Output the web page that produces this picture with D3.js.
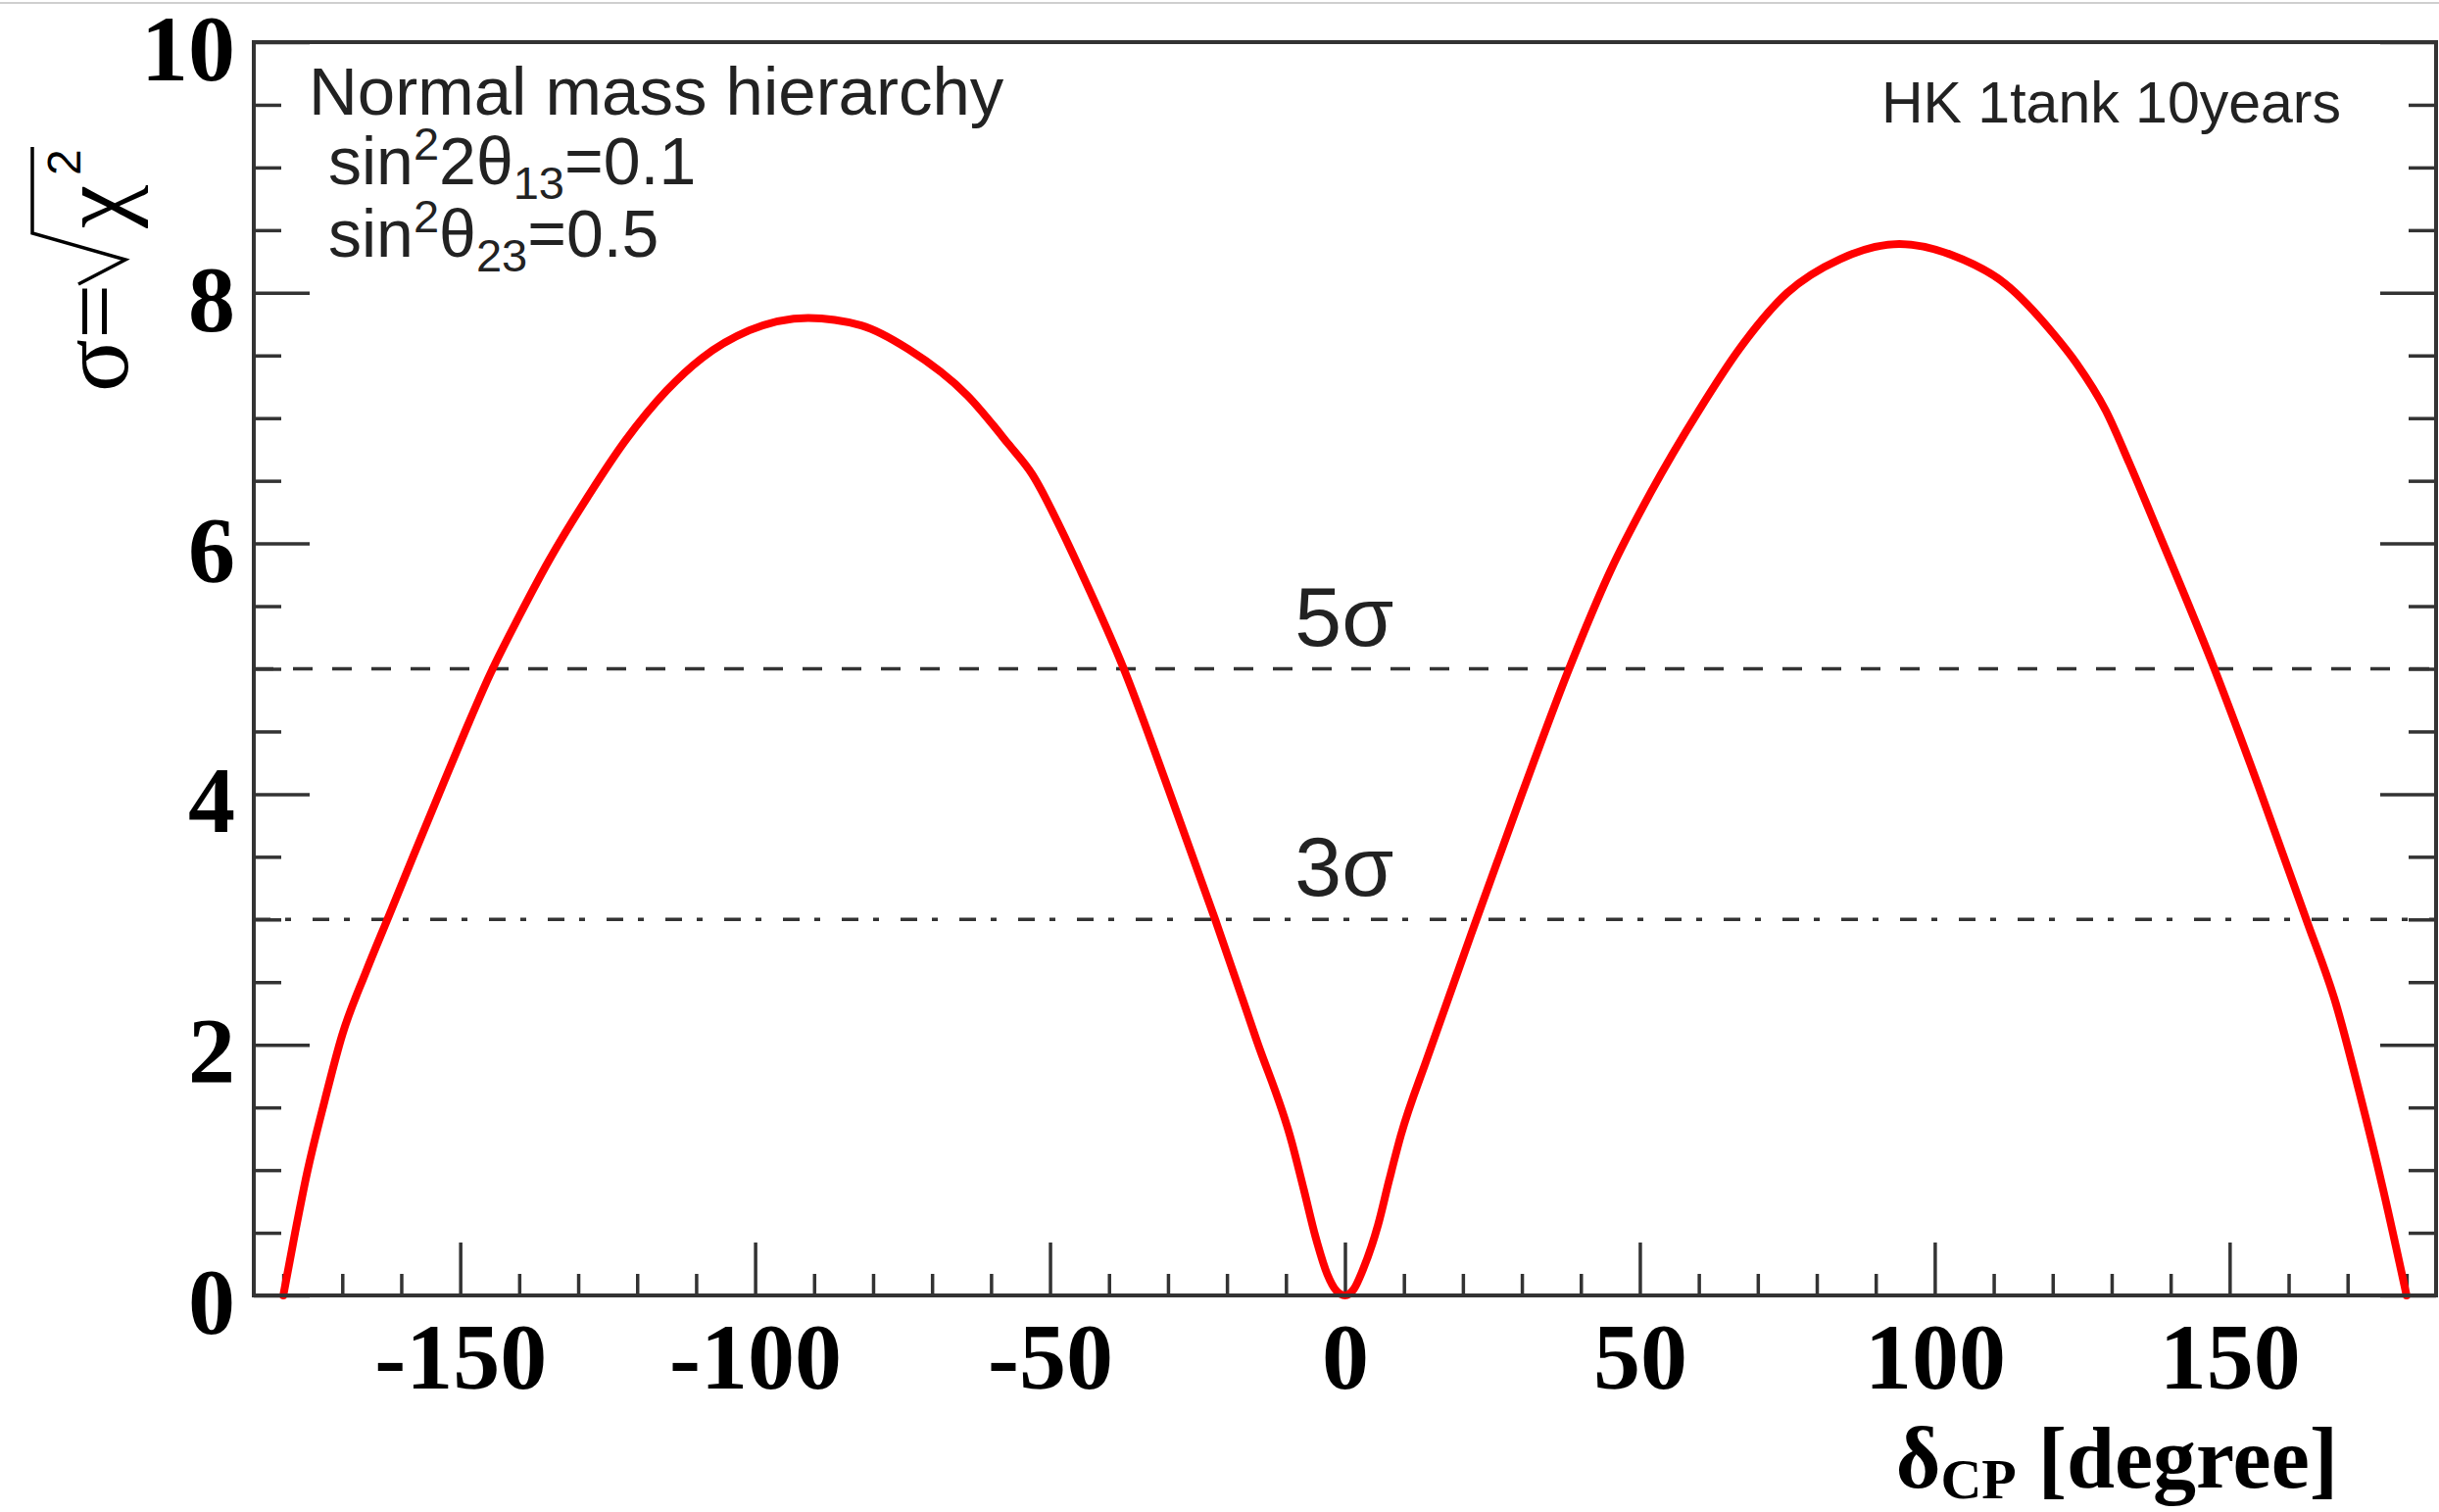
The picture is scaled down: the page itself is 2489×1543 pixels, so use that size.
<!DOCTYPE html>
<html>
<head>
<meta charset="utf-8">
<script src="https://cdn.jsdelivr.net/npm/d3@7"></script>
<style>
  html, body { margin: 0; padding: 0; background: #fff; }
  svg { display: block; }
</style>
</head>
<body>
<script>
// ---- data ----
const deltaCP = [-180,-178,-176,-173,-170,-166,-162,-158,-153,-149,-145,-140,-135,-128,-122,-115,-109,-101,-91,-82,-74,-64,-57,-53,-48,-45,-37.5,-30,-22,-15,-9,-7,-5,-3,-1.5,0,1.5,3,5.6,7.5,9.5,14,22.3,30,38,45,52,60,67,75,84,94,103,112,120,124,129,133,138,147,155,163,168,172,176,180];
const sigma   = [0,0.5,0.97,1.55,2.08,2.58,3.04,3.5,4.07,4.52,4.95,5.42,5.86,6.4,6.82,7.22,7.48,7.7,7.8,7.74,7.55,7.18,6.79,6.55,6.1,5.8,5.0,4.05,3.0,2.04,1.22,0.85,0.47,0.17,0.04,0,0.05,0.2,0.56,0.92,1.28,1.9,3.0,4.0,5.0,5.78,6.42,7.06,7.56,8.0,8.27,8.39,8.3,8.07,7.68,7.44,7.06,6.64,6.08,5.05,4.05,3.0,2.33,1.62,0.85,0];
const xMajorTicks = [-150,-100,-50,0,50,100,150];
const xMinorTicks = [-180,-170,-160,-140,-130,-120,-110,-90,-80,-70,-60,-40,-30,-20,-10,10,20,30,40,60,70,80,90,110,120,130,140,160,170,180];
const yMajorTicks = [0,2,4,6,8,10];
const yMinorTicks = [0.5,1,1.5,2.5,3,3.5,4.5,5,5.5,6.5,7,7.5,8.5,9,9.5];
const sigmaLevels = [5, 3];
const sigmaLabels = ["5σ", "3σ"];

// ---- layout ----
const W = 2489, H = 1543;
const L = 259, R = 2486, T = 43, B = 1322;
const ink = "#333";

const svg = d3.select("body").append("svg").attr("width", W).attr("height", H);
svg.append("rect").attr("width", W).attr("height", H).attr("fill", "#fff");
svg.append("line").attr("x1", 0).attr("x2", W).attr("y1", 3).attr("y2", 3)
   .attr("stroke", "#cfcfcf").attr("stroke-width", 2);

const x = d3.scaleLinear().domain([-185, 185]).range([L, R]);
const y = d3.scaleLinear().domain([0, 10]).range([B, T]);

// minor ticks
svg.append("g").attr("transform", `translate(0,${B})`)
  .call(d3.axisBottom(x).tickValues(xMinorTicks).tickSize(-22).tickFormat(""))
  .call(g => g.select(".domain").remove());
svg.append("g").attr("transform", `translate(${L},0)`)
  .call(d3.axisLeft(y).tickValues(yMinorTicks).tickSize(-28).tickFormat(""))
  .call(g => g.select(".domain").remove());
svg.append("g").attr("transform", `translate(${R},0)`)
  .call(d3.axisRight(y).tickValues(yMinorTicks).tickSize(-28).tickFormat(""))
  .call(g => g.select(".domain").remove());

// major ticks with labels
const fmt = d => String(d);
const xAx = svg.append("g").attr("transform", `translate(0,${B})`)
  .call(d3.axisBottom(x).tickValues(xMajorTicks).tickSizeInner(-54).tickSizeOuter(0).tickPadding(27).tickFormat(fmt));
xAx.select(".domain").remove();
const yAx = svg.append("g").attr("transform", `translate(${L},0)`)
  .call(d3.axisLeft(y).tickValues(yMajorTicks).tickSizeInner(-57).tickSizeOuter(0).tickPadding(19).tickFormat(fmt));
yAx.select(".domain").remove();
svg.append("g").attr("transform", `translate(${R},0)`)
  .call(d3.axisRight(y).tickValues(yMajorTicks).tickSize(-57).tickFormat(""))
  .call(g => g.select(".domain").remove());

svg.selectAll(".tick line").attr("stroke", ink).attr("stroke-width", 3.5);
[xAx, yAx].forEach(a => a.selectAll("text")
  .attr("font-family", "'Liberation Serif', 'Times New Roman', serif")
  .attr("font-weight", "bold").attr("font-size", 96).attr("fill", "#000"));
yAx.selectAll("text").attr("dy", "0.4em");

// sigma level lines
const dashes = ["20,20", "17,15,6,22"];
sigmaLevels.forEach((s, i) => {
  svg.append("line").attr("x1", L).attr("x2", R).attr("y1", y(s)).attr("y2", y(s))
    .attr("stroke", ink).attr("stroke-width", 3.5).attr("stroke-dasharray", dashes[i]);
  svg.append("text").attr("x", x(-8.5)).attr("y", y(s) - 24)
    .attr("font-family", "'Liberation Sans', Arial, sans-serif").attr("font-size", 86)
    .attr("fill", "#222").text(sigmaLabels[i]);
});

// curve
const pts = deltaCP.map((d, i) => [d, sigma[i]]);
svg.append("path").datum(pts)
  .attr("d", d3.line().x(d => x(d[0])).y(d => y(d[1])).curve(d3.curveMonotoneX))
  .attr("fill", "none").attr("stroke", "#ff0000").attr("stroke-width", 8)
  .attr("stroke-linejoin", "round").attr("stroke-linecap", "round");

// frame
svg.append("rect").attr("x", L).attr("y", T).attr("width", R - L).attr("height", B - T)
  .attr("fill", "none").attr("stroke", ink).attr("stroke-width", 4);

// in-plot texts
const sans = "'Liberation Sans', Arial, Helvetica, sans-serif";
svg.append("text").attr("x", 315).attr("y", 117).attr("font-family", sans)
  .attr("font-size", 69).attr("fill", "#222").text("Normal mass hierarchy");

function paramLine(yb, parts) {
  const t = svg.append("text").attr("x", 335).attr("y", yb).attr("font-family", sans)
    .attr("font-size", 68).attr("fill", "#222");
  parts.forEach(p => {
    const ts = t.append("tspan").text(p.t);
    if (p.s) ts.attr("font-size", 47);
    if (p.dy) ts.attr("dy", p.dy);
  });
}
paramLine(188, [{t:"sin"},{t:"2",s:1,dy:-25},{t:"2θ",dy:25},{t:"13",s:1,dy:15},{t:"=0.1",dy:-15}]);
paramLine(262, [{t:"sin"},{t:"2",s:1,dy:-25},{t:"θ",dy:25},{t:"23",s:1,dy:15},{t:"=0.5",dy:-15}]);

svg.append("text").attr("x", 2389).attr("y", 125).attr("text-anchor", "end")
  .attr("font-family", sans).attr("font-size", 59).attr("fill", "#222").text("HK 1tank 10years");

// x-axis title
const serif = "'Liberation Serif', 'Times New Roman', serif";
const xt = svg.append("text").attr("x", 2386).attr("y", 1518).attr("text-anchor", "end")
  .attr("font-family", serif).attr("font-weight", "bold").attr("font-size", 88).attr("fill", "#000");
xt.append("tspan").text("δ");
xt.append("tspan").attr("font-size", 58).attr("dy", 11).text("CP");
xt.append("tspan").attr("dy", -11).text(" [degree]");

// y-axis title: σ=√χ² rotated
const yt = svg.append("g").attr("transform", "translate(130,405) rotate(-90)");
yt.append("text").attr("x", 5).attr("y", 0).attr("font-family", serif)
  .attr("font-size", 100).attr("fill", "#000").text("σ=");
yt.append("text").attr("x", 172).attr("y", 0).attr("font-family", serif)
  .attr("font-size", 100).attr("fill", "#000").text("χ");
yt.append("text").attr("x", 226).attr("y", -48).attr("font-family", sans)
  .attr("font-size", 48).attr("fill", "#000").text("2");
yt.append("path").attr("d", "M115,-50 L140,-2 L167,-97 L255,-97")
  .attr("fill", "none").attr("stroke", "#000").attr("stroke-width", 3.5).attr("stroke-linejoin", "miter");
</script>
</body>
</html>
